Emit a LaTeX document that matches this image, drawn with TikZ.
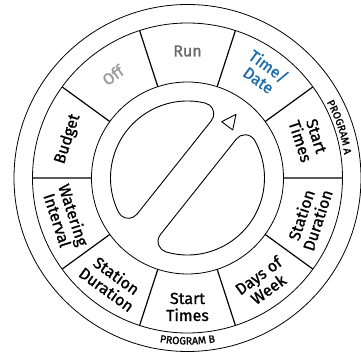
\documentclass[tikz,border=0pt]{standalone}
\usepackage{fontspec}
\setmainfont{Fira Sans}[FakeBold=1.2]
\usetikzlibrary{decorations.text}
\definecolor{rungray}{RGB}{105,105,105}
\definecolor{offgray}{RGB}{155,155,155}
\definecolor{dateblue}{RGB}{28,108,172}

\begin{document}
\begin{tikzpicture}[x=1pt, y=1pt,
  ring/.style={draw, line width=0.8pt},
  spoke/.style={line width=1.2pt},
  lobe/.style={draw, line width=0.9pt},
  lbl/.style={align=center, inner sep=0pt, font=\fontsize{16}{17}\selectfont},
  prog/.style={decorate, decoration={text along path, text align=center,
    text={|\fontsize{10.5}{10.5}\selectfont|#1}}}]
\useasboundingbox (-187.5,-174) rectangle (173.5,178);
% rings of the dial face
\draw[ring] (0,0) circle[radius=173.5];
\draw[ring] (0,0) circle[radius=155];
\draw[ring] (0,0) circle[radius=96];
% borders between the positions
\draw[spoke] (0:96) -- (0:155) (36:96) -- (36:155) (72:96) -- (72:155)
  (108:96) -- (108:155) (144:96) -- (144:155) (180:96) -- (180:155)
  (216:96) -- (216:155) (252:96) -- (252:155) (288:96) -- (288:155)
  (324:96) -- (324:155);
% knob
\begin{scope}[rotate=51.5]
\draw[lobe] (-59.77,17) -- (59.77,17) arc[start angle=-90, end angle=25.1, radius=11]
  arc[start angle=25.1, end angle=154.9, radius=77]
  arc[start angle=154.9, end angle=270, radius=11] -- cycle;
\end{scope}
\begin{scope}[rotate=231.5]
\draw[lobe] (-61.08,14) -- (61.08,14) arc[start angle=-90, end angle=22.26, radius=11]
  arc[start angle=22.26, end angle=157.74, radius=77]
  arc[start angle=157.74, end angle=270, radius=11] -- cycle;
\end{scope}
\draw[lobe, line join=round] (34.2,56.3) -- (48.5,63.7) -- (45.2,48) -- cycle;
% position labels
\node[lbl, text=rungray] (run) at (90:127) {Run};
\node[lbl, text=dateblue, rotate=-36] (timedate) at (54:130) {Time/\\Date};
\node[lbl, rotate=-72] (starta) at (18:127) {Start\\Times};
\node[lbl, rotate=72] (durationa) at (-18:128) {Station\\Duration};
\node[lbl, rotate=36] (days) at (-54:129) {Days of\\Week};
\node[lbl] (startb) at (-90:129) {Start\\Times};
\node[lbl, rotate=-36] (durationb) at (-126:129) {Station\\Duration};
\node[lbl, rotate=-72] (interval) at (-162:128) {Watering\\Interval};
\node[lbl, rotate=72] (budget) at (162:126) {Budget};
\node[lbl, text=offgray, rotate=36] (off) at (126:127) {Off};
% program names on the rim
\path[prog={PROGRAM A}] (40:158.5) arc[start angle=40, end angle=-3, radius=158.5];
\path[prog={PROGRAM B}] (-112:166.5) arc[start angle=-112, end angle=-68, radius=166.5];
\end{tikzpicture}
\end{document}
